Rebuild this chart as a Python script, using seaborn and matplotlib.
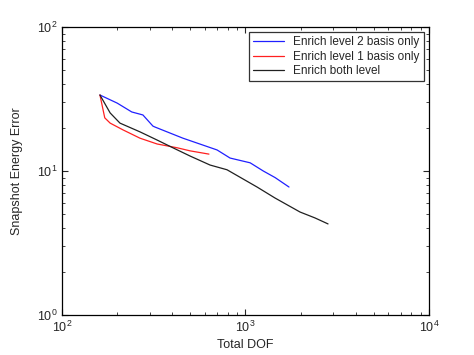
import matplotlib
matplotlib.use("Agg")
import matplotlib.pyplot as plt
import pandas as pd
import seaborn as sns

# series (log-log)
level2_dof = [161, 200, 240, 276, 313, 321, 456, 700, 824, 1060, 1250, 1450, 1726]
level2_err = [33.7, 29.6, 25.7, 24.5, 20.5, 20.2, 16.9, 14.0, 12.3, 11.4, 10.0, 9.0, 7.74]

level1_dof = [161, 171, 183, 215, 266, 330, 424, 499, 632]
level1_err = [33.7, 23.4, 21.5, 19.3, 16.9, 15.4, 14.5, 13.8, 13.1]

both_dof = [161, 183, 207, 266, 330, 402, 499, 641, 793, 1156, 1449, 1982, 2393, 2817]
both_err = [33.7, 25.3, 21.5, 18.7, 16.4, 14.5, 12.7, 11.0, 10.2, 7.74, 6.49, 5.19, 4.72, 4.29]

labels = ["Enrich level 2 basis only", "Enrich level 1 basis only", "Enrich both level"]
colors = ["#2020ff", "#ff2020", "#202020"]


def main() -> None:
    sns.set_style("ticks")
    plt.rcParams["font.family"] = ["Liberation Sans", "DejaVu Sans"]
    plt.rcParams["mathtext.fontset"] = "custom"
    plt.rcParams["mathtext.rm"] = "Liberation Sans"

    fig = plt.figure(figsize=(4.74, 3.55), dpi=100)
    ax = fig.add_axes([62 / 474, 40 / 355, 367 / 474, 288 / 355])

    series = [(level2_dof, level2_err), (level1_dof, level1_err), (both_dof, both_err)]
    for (xs, ys), lab, col in zip(series, labels, colors):
        df = pd.DataFrame({"dof": xs, "err": ys})
        sns.lineplot(data=df, x="dof", y="err", ax=ax, color=col, label=lab,
                     sort=False, estimator=None, linewidth=0.9)

    ax.set_xscale("log")
    ax.set_yscale("log")
    ax.set_xlim(1e2, 1e4)
    ax.set_ylim(1e0, 1e2)
    ax.set_xlabel("Total DOF", fontsize=9, labelpad=3)
    ax.set_ylabel("Snapshot Energy Error", fontsize=9, labelpad=10)
    ax.tick_params(which="both", direction="in", top=True, right=True, labelsize=9)
    ax.tick_params(which="major", length=4)
    ax.tick_params(which="minor", length=2)
    for s in ax.spines.values():
        s.set_linewidth(0.9)
        s.set_color("black")

    leg = ax.legend(loc="upper right", fontsize=8.5, frameon=True, fancybox=False,
                    borderpad=0.35, labelspacing=0.2, handlelength=2.6,
                    borderaxespad=0.45)
    leg.get_frame().set_edgecolor("black")
    leg.get_frame().set_linewidth(0.9)

    fig.savefig("out.png", dpi=100)
    plt.close(fig)


if __name__ == "__main__":
    main()
